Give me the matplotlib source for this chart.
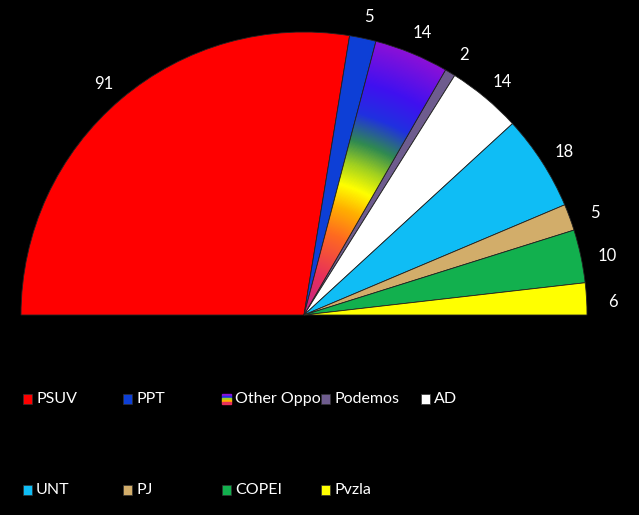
import numpy as np
import matplotlib
matplotlib.use("Agg")
import matplotlib.pyplot as plt
from matplotlib.colors import LinearSegmentedColormap
from matplotlib.patches import Rectangle

plt.rcParams['font.family'] = ['Lato', 'DejaVu Sans']

# seats per party (half-circle parliament chart)
parties = ['PSUV', 'PPT', 'Other Oppo', 'Podemos', 'AD', 'UNT', 'PJ', 'COPEI', 'Pvzla']
seats = [91, 5, 14, 2, 14, 18, 5, 10, 6]
colors = ['#ff0000', '#0d3fd6', '#7a10e0', '#6e5c8e', '#ffffff',
          '#0fbdf5', '#d2ad6a', '#12b04e', '#ffff00']

# rainbow used for "Other Oppo"
rainbow_stops = [(0.0, '#c0208f'), (0.15, '#e8305a'), (0.3, '#ff6a20'), (0.4, '#ffb000'),
                 (0.48, '#ffff00'), (0.56, '#a0d020'), (0.64, '#308a50'),
                 (0.74, '#2030e0'), (0.85, '#4010f0'), (1.0, '#8a10d8')]

W, H = 639, 515
cx, cy, R = 304, 315, 283

fig = plt.figure(figsize=(W / 100, H / 100), dpi=100, facecolor='black')
ax = fig.add_axes([0, 0, 1, 1])
ax.set_facecolor('black')

total = sum(seats)
wedges, _ = ax.pie(seats + [total], colors=colors + ['none'], startangle=180,
                   counterclock=False, radius=1.0,
                   wedgeprops=dict(edgecolor='#222222', linewidth=0.6))
wedges[-1].set_visible(False)

# radial rainbow fill clipped to the Other Oppo wedge
cmap = LinearSegmentedColormap.from_list('rb', rainbow_stops)
xs = np.linspace(-1, 1, 600)
ys = np.linspace(0, 1, 300)
X, Y = np.meshgrid(xs, ys)
rr = np.sqrt(X ** 2 + Y ** 2)
im = ax.imshow(rr, cmap=cmap, vmin=0, vmax=1, extent=(-1, 1, 0, 1), origin='lower', zorder=2)
oppo = wedges[parties.index('Other Oppo')]
im.set_clip_path(oppo)
oppo.set_zorder(3)
oppo.set_facecolor('none')

# value labels outside the arc
start = 180.0
for n in seats:
    span = 180.0 * n / total
    mid = np.deg2rad(start - span / 2)
    start -= span
    ax.text(1.095 * np.cos(mid), 1.095 * np.sin(mid) - 5 / R, str(n), color='white',
            fontsize=12, ha='center', va='center')

ax.set_xlim(-cx / R, (W - cx) / R)
ax.set_ylim((cy - H) / R, cy / R)
ax.set_aspect('equal')
ax.axis('off')

# legend laid out in a grid
col_x = [23, 123, 222, 321, 421]
row_y = [399, 490]
for i, (name, c) in enumerate(zip(parties, colors)):
    px = col_x[i % 5]
    py = row_y[i // 5]
    if name == 'Other Oppo':
        for k, (_, sc) in enumerate(rainbow_stops[::-1][::2]):
            fig.add_artist(Rectangle((px / W, 1 - (py - 5 + 2 * k + 2) / H), 9 / W, 2 / H,
                                     transform=fig.transFigure, color=sc))
    else:
        fig.add_artist(Rectangle((px / W, 1 - (py + 5) / H), 9 / W, 10 / H,
                                 transform=fig.transFigure, facecolor=c,
                                 edgecolor='#333333', linewidth=0.5))
    fig.text((px + 13) / W, 1 - py / H, name, color='white', fontsize=11.5, va='center')

fig.savefig('out.png', dpi=100, facecolor='black')
